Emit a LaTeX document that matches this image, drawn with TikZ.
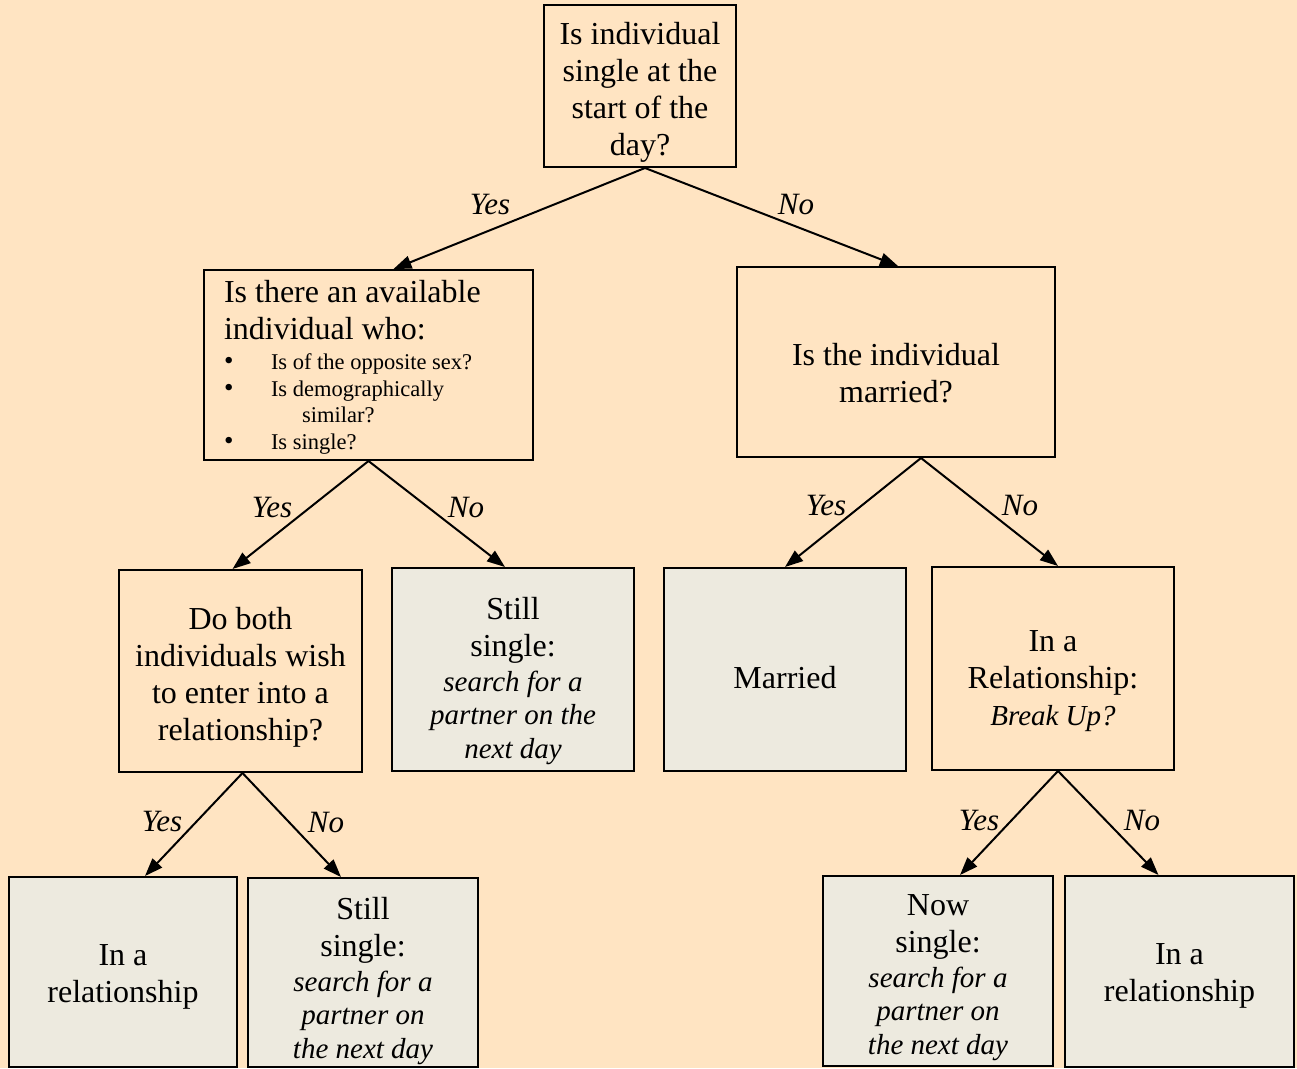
\documentclass[tikz,border=0pt]{standalone}
\usepackage{fontspec}
\setmainfont{Liberation Serif}
\usetikzlibrary{arrows.meta,calc}
\definecolor{peach}{RGB}{255,228,194}
\definecolor{paleend}{RGB}{237,234,223}
\newcommand{\bigtxt}{\fontsize{32}{37}\selectfont}
\newcommand{\itxt}{\fontsize{29}{33.5}\selectfont\itshape}
\newcommand{\smalltxt}{\fontsize{22.5}{26.5}\selectfont}
\newcommand{\bigdot}{\makebox[47pt][l]{\fontsize{27}{0}\selectfont\textbullet}}
\tikzstyle{every path}=[line width=2pt]
\tikzstyle{question}=[draw,fill=peach,align=center,font=\bigtxt,inner sep=0pt]
\tikzstyle{outcome}=[draw,fill=paleend,align=center,font=\bigtxt,inner sep=0pt]
\tikzstyle{answer}=[font=\fontsize{31}{36}\selectfont\itshape,inner sep=0pt]
\tikzstyle{arr}=[-{Triangle[length=18pt,width=13pt]}]

\begin{document}
\begin{tikzpicture}[x=1pt,y=-1pt]
  \fill[peach] (0,0) rectangle (1297,1068);
  \useasboundingbox (0,0) rectangle (1297,1068);

  % questions (text height/depth = box top/bottom from last baseline)
  \node[question,minimum width=192,text height=150pt,text depth=12pt] (start) at (640,86)
    {Is individual\\single at the\\start of the\\day?};
  \node[question,minimum width=329,text width=289pt,inner xsep=20pt,align=left,
        text height=32pt,text depth=158pt] (avail) at (368.5,365)
    {\setlength{\parindent}{0pt}\spaceskip=0pt\xspaceskip=0pt
     Is there an available\\individual who:\par
     \vspace{4pt}{\smalltxt
     \bigdot Is of the opposite sex?\par
     \bigdot Is demographically\par
     \hspace*{78pt}similar?\par
     \bigdot Is single?\par}};
  \node[question,minimum width=318,text height=135pt,text depth=55pt] (wed) at (896,362)
    {Is the individual\\married?};
  \node[question,minimum width=243,text height=170pt,text depth=32pt] (wish) at (240.5,671)
    {Do both\\individuals wish\\to enter into a\\relationship?};
  \node[question,minimum width=242,text height=158pt,text depth=45pt] (breakup) at (1053,668.5)
    {In a\\Relationship:\\{\itxt Break Up?}};

  % outcomes
  \node[outcome,minimum width=242,text height=190pt,text depth=13pt] (still1) at (513,669.5)
    {Still\\single:\\[-2pt]{\itxt search for a}\\[-3.5pt]{\itxt partner on the}\\[-3.5pt]{\itxt next day}};
  \node[outcome,minimum width=242,text height=120pt,text depth=83pt] (married) at (785,669.5)
    {Married};
  \node[outcome,minimum width=228,text height=125pt,text depth=65pt] (rel1) at (123,972)
    {In a\\relationship};
  \node[outcome,minimum width=230,text height=180pt,text depth=9pt] (still2) at (363,972.5)
    {Still\\single:\\[-2pt]{\itxt search for a}\\[-3.5pt]{\itxt partner on}\\[-3.5pt]{\itxt the next day}};
  \node[outcome,minimum width=230,text height=178pt,text depth=12pt] (now) at (938,971)
    {Now\\single:\\[-2pt]{\itxt search for a}\\[-3.5pt]{\itxt partner on}\\[-3.5pt]{\itxt the next day}};
  \node[outcome,minimum width=229,text height=125pt,text depth=66pt] (rel2) at (1179.5,971.5)
    {In a\\relationship};

  % arrows
  \draw[arr] ($(start.south)+(5,0)$) -- ($(avail.north)+(25,0)$);
  \draw[arr] ($(start.south)+(5,0)$) -- ($(wed.north)+(2,0)$);
  \draw[arr] (avail.south) -- ($(wish.north)+(-8,0)$);
  \draw[arr] (avail.south) -- ($(still1.north)+(-8,0)$);
  \draw[arr] ($(wed.south)+(25,0)$) -- (married.north);
  \draw[arr] ($(wed.south)+(25,0)$) -- ($(breakup.north)+(5,0)$);
  \draw[arr] ($(wish.south)+(2,0)$) -- ($(rel1.north)+(22,0)$);
  \draw[arr] ($(wish.south)+(2,0)$) -- ($(still2.north)+(-22,0)$);
  \draw[arr] ($(breakup.south)+(5,0)$) -- ($(now.north)+(22,0)$);
  \draw[arr] ($(breakup.south)+(5,0)$) -- ($(rel2.north)+(-21,0)$);

  % labels
  \node[answer] (yes1) at (490,204) {Yes};
  \node[answer] (no1) at (796,204) {No};
  \node[answer] (yes2) at (272,507) {Yes};
  \node[answer] (no2) at (466,507) {No};
  \node[answer] (yes3) at (826,505) {Yes};
  \node[answer] (no3) at (1020,505) {No};
  \node[answer] (yes4) at (162,821) {Yes};
  \node[answer] (no4) at (326,822) {No};
  \node[answer] (yes5) at (979,820) {Yes};
  \node[answer] (no5) at (1142,820) {No};
\end{tikzpicture}
\end{document}
